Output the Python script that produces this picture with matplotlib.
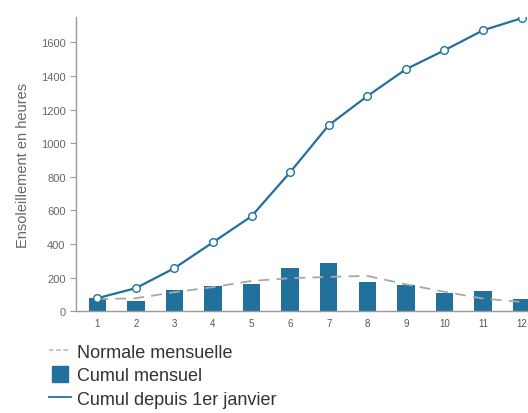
import matplotlib.pyplot as plt
from matplotlib.lines import Line2D

plt.rcParams.update({
    "font.family": ["Liberation Sans", "DejaVu Sans"],
})

months = [1, 2, 3, 4, 5, 6, 7, 8, 9, 10, 11, 12]
monthly = [77, 58, 123, 149, 159, 258, 286, 175, 155, 111, 121, 75]
normal = [71, 77, 113, 143, 180, 196, 204, 210, 160, 115, 75, 55]
cumul = [77, 137, 256, 410, 565, 827, 1107, 1280, 1440, 1553, 1672, 1744]

blue = "#21719c"
grey_axis = "#9a9a9a"


def main():
    fig = plt.figure(figsize=(5.28, 4.14), dpi=100)
    ax = fig.add_axes([0.144, 0.246, 0.884, 0.710])

    ax.bar(months, monthly, width=0.45, color=blue, zorder=2)
    ax.plot(months, normal, color="#a8a8a8", linestyle=(0, (6, 4)),
            linewidth=1.3, zorder=3)
    ax.plot(months, cumul, color=blue, linewidth=1.6, marker="o",
            markersize=5.5, markerfacecolor="white", markeredgecolor=blue,
            markeredgewidth=1.0, zorder=4)

    ax.set_xlim(0.45, 12.55)
    ax.set_ylim(0, 1750)
    ax.set_xticks(months)
    ax.set_yticks(range(0, 1601, 200))

    for side in ["top", "right"]:
        ax.spines[side].set_visible(False)
    for side in ["left", "bottom"]:
        ax.spines[side].set_color(grey_axis)
        ax.spines[side].set_linewidth(1.0)

    ax.tick_params(axis="x", length=0, pad=5, labelsize=7, labelcolor="#555555")
    ax.tick_params(axis="y", length=4, color=grey_axis, labelsize=8,
                   labelcolor="#666666")
    ax.set_ylabel("Ensoleillement en heures", fontsize=10.5, color="#666666",
                  labelpad=8)

    handles = [
        Line2D([], [], color="#c0c0c0", linestyle=(0, (2.5, 1.5)), linewidth=1.3),
        Line2D([], [], color=blue, linestyle="none", marker="s", markersize=12),
        Line2D([], [], color=blue, linewidth=1.3),
    ]
    labels = ["Normale mensuelle", "Cumul mensuel", "Cumul depuis 1er janvier"]
    fig.legend(handles, labels, loc="upper left", bbox_to_anchor=(0.08, 0.185),
               frameon=False, fontsize=13, handlelength=1.2, handletextpad=0.3,
               labelspacing=0.36, borderaxespad=0, labelcolor="#333333")

    fig.savefig("out.png", dpi=100, facecolor="white")
    plt.close(fig)


if __name__ == "__main__":
    main()
